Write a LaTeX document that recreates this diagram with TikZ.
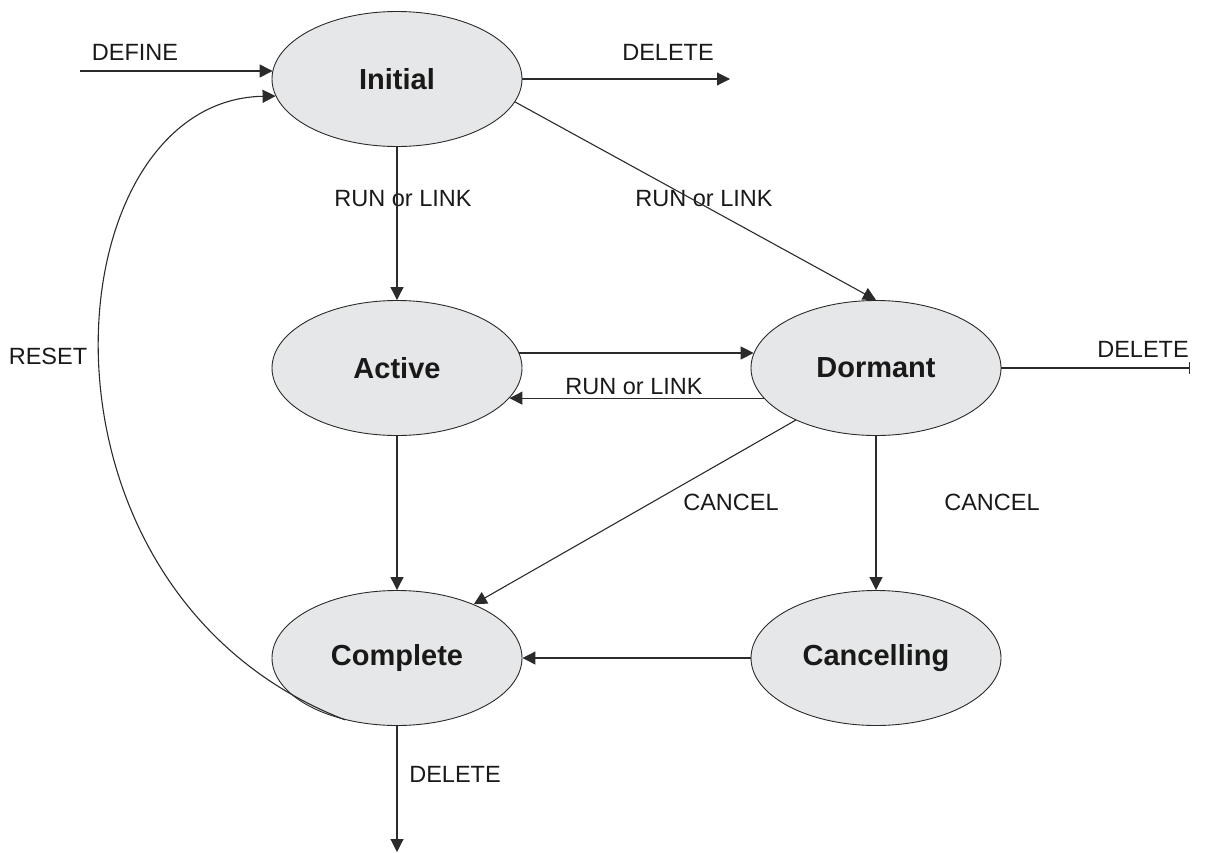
\documentclass[tikz,border=0pt]{standalone}
\usepackage{fontspec}
\setmainfont{Liberation Sans}
\usetikzlibrary{arrows.meta,shapes.geometric}
\definecolor{stategray}{HTML}{E6E7E8}
\definecolor{linegray}{HTML}{2B2B2B}
\begin{document}
\begin{tikzpicture}[x=1pt,y=-1pt,
  state/.style={ellipse,draw=linegray,line width=0.9pt,fill=stategray,minimum width=250pt,minimum height=135pt,inner sep=0pt,font=\fontsize{29}{32}\selectfont\bfseries,text=black!90},
  lbl/.style={inner sep=0pt,font=\fontsize{23.5}{26}\selectfont,text=black!90},
  conn/.style={draw=linegray,line width=1.1pt,-{Triangle[length=13pt,width=13pt]}},
  barconn/.style={draw=linegray,line width=1.1pt,-{Bar[width=12pt,line width=1.1pt]}}]
\useasboundingbox (0,0) rectangle (1205,852);
\node[state] (init) at (397,79) {Initial};
\node[state] (act) at (397,368) {Active};
\node[state] (dor) at (876,368) {Dormant};
\node[state] (comp) at (397,658) {Complete};
\node[state] (canc) at (876,658) {Cancelling};
\coordinate (defstart) at (80,71);
\coordinate (delinit) at (730,79);
\coordinate (deldor) at (1190,368);
\coordinate (delcomp) at (397,852);
% labels
\node[lbl] (tdefine) at (135,52) {DEFINE};
\node[lbl] (tdel1) at (668,52) {DELETE};
\node[lbl] (trun1) at (403,199) {RUN or LINK};
\node[lbl] (trun2) at (704,199) {RUN or LINK};
\node[lbl] (treset) at (48,356) {RESET};
\node[lbl] (tdel2) at (1143,349) {DELETE};
\node[lbl] (trun3) at (634,387) {RUN or LINK};
\node[lbl] (tcan1) at (731,502) {CANCEL};
\node[lbl] (tcan2) at (992,502) {CANCEL};
\node[lbl] (tdel3) at (455,774) {DELETE};
% connectors
\draw[conn] (defstart) -- (defstart -| init.176);
\draw[conn] (init.east) -- (delinit);
\draw[conn] (init.south) -- (act.north);
\draw[conn] (init.-11) -- (dor.north);
\draw[conn] (act.7) -- (dor.173);
\draw[conn] (dor.195) -- (act.-15);
\draw[barconn] (dor.east) -- (deldor);
\draw[conn] (dor.213) -- (comp.35);
\draw[conn] (act.south) -- (comp.north);
\draw[conn] (dor.south) -- (canc.north);
\draw[conn] (canc.west) -- (comp.east);
\draw[conn] (comp.south) -- (delcomp);
\draw[conn] (comp.230) .. controls (10,590) and (50,100) .. (init.188);
\end{tikzpicture}
\end{document}
